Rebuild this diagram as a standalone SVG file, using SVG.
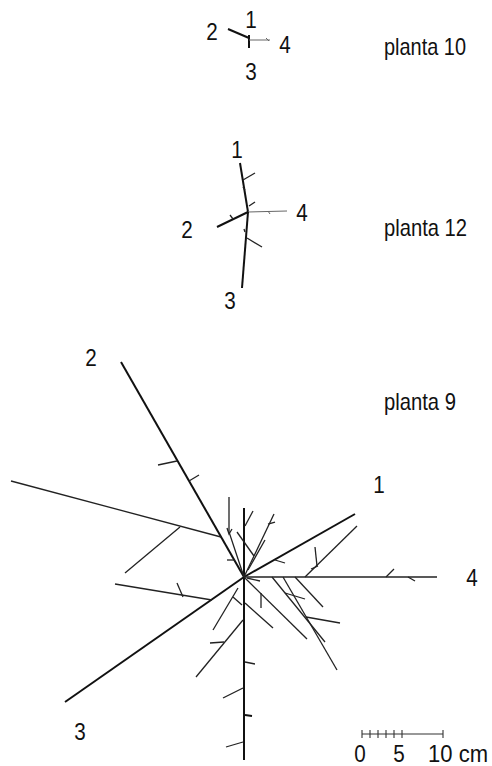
<svg xmlns="http://www.w3.org/2000/svg" width="492" height="766" viewBox="0 0 492 766">
<style>
text{font-family:"Liberation Sans",Arial,sans-serif;font-size:24px;fill:#111}
.lbl{text-anchor:middle}
.thick{stroke:#111;stroke-width:2;fill:none;stroke-linecap:butt}
.thin{stroke:#222;stroke-width:1.3;fill:none}
.gray{stroke:#666;stroke-width:1;fill:none}
.scale{stroke:#333;stroke-width:1.1;fill:none}
</style>
<rect width="492" height="766" fill="#fff"/>
<g id="planta10">
<g id="p10-connectors">
<line class="thick" x1="228" y1="29" x2="249" y2="38"/>
<line class="thick" x1="249" y1="35" x2="249" y2="48"/>
<line class="gray" x1="249" y1="40" x2="270" y2="40"/>
<line class="gray" x1="266" y1="38" x2="269" y2="41"/>
</g>
<text class="lbl" x="251" y="28" textLength="11.5" lengthAdjust="spacingAndGlyphs">1</text>
<text class="lbl" x="212" y="40" textLength="11.5" lengthAdjust="spacingAndGlyphs">2</text>
<text class="lbl" x="251" y="80" textLength="11.5" lengthAdjust="spacingAndGlyphs">3</text>
<text class="lbl" x="285" y="53" textLength="11.5" lengthAdjust="spacingAndGlyphs">4</text>
<text x="384" y="55" textLength="82" lengthAdjust="spacingAndGlyphs">planta 10</text>
</g>
<g id="planta12">
<g id="p12-connectors">
<line class="thick" x1="240" y1="163" x2="248" y2="212"/>
<line class="thin" x1="243" y1="180" x2="255" y2="173"/>
<line class="thin" x1="243" y1="187" x2="245" y2="190"/>
<line class="thin" x1="249" y1="206" x2="255" y2="202"/>
<line class="thick" x1="217" y1="227" x2="248" y2="212"/>
<line class="thin" x1="230" y1="215" x2="233" y2="219"/>
<line class="gray" x1="248" y1="212" x2="287" y2="211"/>
<line class="gray" x1="268" y1="211" x2="270" y2="214"/>
<line class="thick" x1="248" y1="212" x2="242" y2="288"/>
<line class="thin" x1="247" y1="238" x2="262" y2="247"/>
<line class="thin" x1="244" y1="229" x2="245" y2="232"/>
</g>
<text class="lbl" x="237" y="158" textLength="11.5" lengthAdjust="spacingAndGlyphs">1</text>
<text class="lbl" x="187" y="238" textLength="11.5" lengthAdjust="spacingAndGlyphs">2</text>
<text class="lbl" x="230" y="309" textLength="11.5" lengthAdjust="spacingAndGlyphs">3</text>
<text class="lbl" x="302" y="221" textLength="11.5" lengthAdjust="spacingAndGlyphs">4</text>
<text x="384" y="236" textLength="83" lengthAdjust="spacingAndGlyphs">planta 12</text>
</g>
<g id="planta9">
<g id="p9-connectors">
<line class="thick" x1="121" y1="362" x2="244" y2="577"/>
<line class="thick" x1="244" y1="577" x2="355" y2="514"/>
<line class="thick" x1="244" y1="577" x2="65" y2="702"/>
<line class="thin" x1="244" y1="577" x2="437" y2="577"/>
<line class="thick" x1="244" y1="508" x2="244" y2="760" stroke-width="1.6"/>
<line class="thin" x1="177" y1="461" x2="158" y2="465"/>
<line class="thin" x1="189" y1="481" x2="199" y2="475"/>
<line class="thin" x1="11" y1="481" x2="221" y2="537"/>
<line class="thin" x1="180" y1="527" x2="125" y2="573"/>
<line class="thin" x1="115" y1="584" x2="212" y2="600"/>
<line class="thin" x1="177" y1="583" x2="183" y2="597"/>
<polyline class="thin" points="229,497 229,532 244,577"/>
<polyline class="thin" points="227,528 229,534 232,529"/>
<line class="thin" x1="245" y1="526" x2="253" y2="511"/>
<line class="thin" x1="237" y1="532" x2="254" y2="556"/>
<line class="thin" x1="274" y1="514" x2="244" y2="577"/>
<line class="thin" x1="268" y1="524" x2="275" y2="522"/>
<line class="thin" x1="265" y1="540" x2="248" y2="570"/>
<line class="thin" x1="227" y1="560" x2="235" y2="560"/>
<line class="thin" x1="247" y1="578" x2="260" y2="581"/>
<line class="thin" x1="275" y1="560" x2="285" y2="563"/>
<line class="thin" x1="357" y1="526" x2="305" y2="577"/>
<line class="thin" x1="315" y1="547" x2="317" y2="566"/>
<line class="thin" x1="311" y1="569" x2="318" y2="566"/>
<line class="thin" x1="386" y1="577" x2="394" y2="569"/>
<line class="thin" x1="408" y1="577" x2="415" y2="581"/>
<line class="thin" x1="295" y1="577" x2="323" y2="607"/>
<line class="thin" x1="272" y1="577" x2="325" y2="642"/>
<line class="thin" x1="283" y1="577" x2="337" y2="670"/>
<line class="thin" x1="285" y1="593" x2="305" y2="599"/>
<line class="thin" x1="306" y1="617" x2="340" y2="623"/>
<line class="thin" x1="244" y1="577" x2="307" y2="639"/>
<line class="thin" x1="245" y1="603" x2="273" y2="628"/>
<line class="thin" x1="261" y1="593" x2="261" y2="608"/>
<line class="thin" x1="238" y1="588" x2="213" y2="630"/>
<line class="thin" x1="233" y1="597" x2="242" y2="605"/>
<line class="thin" x1="243" y1="620" x2="196" y2="677"/>
<line class="thin" x1="210" y1="643" x2="224" y2="642"/>
<line class="thin" x1="245" y1="662" x2="255" y2="664"/>
<line class="thin" x1="243" y1="688" x2="223" y2="698"/>
<line class="thick" x1="245" y1="715" x2="252" y2="716" stroke-width="1.6"/>
<line class="thin" x1="243" y1="742" x2="226" y2="747"/>
</g>
<text class="lbl" x="91" y="366" textLength="11.5" lengthAdjust="spacingAndGlyphs">2</text>
<text class="lbl" x="379" y="493" textLength="11.5" lengthAdjust="spacingAndGlyphs">1</text>
<text class="lbl" x="80" y="740" textLength="11.5" lengthAdjust="spacingAndGlyphs">3</text>
<text class="lbl" x="472" y="586" textLength="11.5" lengthAdjust="spacingAndGlyphs">4</text>
<text x="384" y="410" textLength="72" lengthAdjust="spacingAndGlyphs">planta 9</text>
</g>
<g id="scalebar">
<line class="scale" x1="362" y1="734" x2="443" y2="734"/>
<g class="scale">
<line x1="362" y1="730" x2="362" y2="738"/>
<line x1="370" y1="730" x2="370" y2="738"/>
<line x1="378" y1="730" x2="378" y2="738"/>
<line x1="386" y1="730" x2="386" y2="738"/>
<line x1="394" y1="730" x2="394" y2="738"/>
<line x1="402" y1="730" x2="402" y2="738"/>
<line x1="443" y1="730" x2="443" y2="738"/>
</g>
<text class="lbl" x="360" y="762" textLength="11.5" lengthAdjust="spacingAndGlyphs">0</text>
<text class="lbl" x="399" y="762" textLength="11.5" lengthAdjust="spacingAndGlyphs">5</text>
<text x="428" y="762" textLength="60" lengthAdjust="spacingAndGlyphs">10 cm</text>
</g>
</svg>
